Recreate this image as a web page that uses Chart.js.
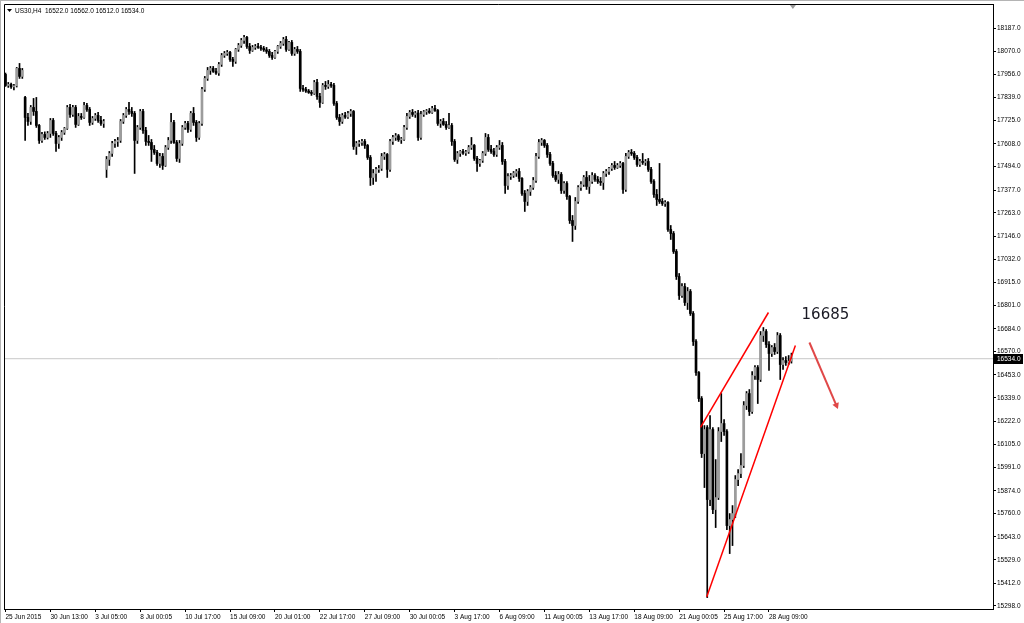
<!DOCTYPE html>
<html><head><meta charset="utf-8">
<script src="https://cdn.jsdelivr.net/npm/chart.js@4/dist/chart.umd.min.js"></script>
<style>html,body{margin:0;padding:0;background:#fff;overflow:hidden}#wrap{position:relative;width:1024px;height:623px}</style>
</head><body><div id="wrap"><canvas id="c"></canvas></div>
<script>
const symbolTitle = 'US30,H4  16522.0 16562.0 16512.0 16534.0';
const opens = [
17955,17900,17905,17893,17898,17985,17945,17840,17740,17720,
17790,17770,17700,17625,17655,17640,17660,17725,17660,17610,
17640,17665,17685,17790,17755,17790,17705,17745,17740,17800,
17780,17715,17735,17750,17725,17710,17480,17530,17560,17610,
17620,17625,17720,17750,17780,17770,17760,17625,17690,17770,
17675,17620,17615,17580,17565,17510,17545,17500,17590,17625,
17715,17615,17535,17610,17690,17710,17680,17760,17715,17640,
17710,17880,17935,17975,17985,17970,17962,18005,18050,18060,
18065,18030,18020,18080,18100,18125,18140,18095,18075,18090,
18095,18090,18085,18078,18070,18050,18040,18070,18095,18110,
18130,18080,18115,18060,18080,18070,17885,17880,17872,17865,
17860,17915,17845,17815,17900,17895,17905,17900,17810,17740,
17720,17750,17742,17760,17770,17595,17610,17615,17620,17600,
17540,17440,17460,17480,17485,17545,17555,17480,17620,17640,
17648,17628,17630,17690,17745,17765,17755,17762,17640,17755,
17768,17772,17765,17785,17775,17710,17720,17705,17690,17700,
17620,17530,17560,17570,17562,17568,17590,17600,17535,17510,
17525,17560,17640,17580,17570,17555,17590,17600,17520,17400,
17445,17450,17462,17470,17435,17360,17320,17370,17390,17425,
17545,17615,17625,17600,17555,17510,17450,17430,17455,17375,
17410,17345,17225,17200,17320,17390,17405,17440,17395,17420,
17450,17430,17420,17415,17460,17470,17485,17500,17490,17500,
17510,17380,17545,17565,17560,17540,17505,17520,17515,17520,
17480,17420,17355,17330,17320,17310,17315,17180,17160,17070,
16945,16850,16895,16815,16870,16760,16620,16465,16335,16060,
16190,15830,16180,15780,15840,16170,16210,16170,15700,15730,
15760,15930,15960,16000,16300,16360,16270,16450,16490,16430,
16650,16670,16605,16560,16590,16570,16650,16505,16525,16515,
16522];
const highs = [
17962,17915,17912,17905,17990,18010,17985,17845,17760,17800,
17835,17840,17705,17665,17668,17670,17735,17735,17670,17650,
17675,17690,17800,17805,17800,17800,17760,17760,17815,17810,
17790,17745,17760,17765,17745,17730,17545,17570,17620,17630,
17640,17730,17760,17790,17815,17790,17770,17700,17780,17780,
17690,17650,17630,17600,17575,17560,17560,17600,17640,17760,
17725,17625,17625,17700,17720,17720,17770,17790,17725,17720,
17890,17945,17990,17995,17995,17985,18015,18060,18070,18075,
18070,18040,18085,18110,18135,18150,18145,18110,18100,18105,
18110,18100,18095,18090,18080,18065,18075,18100,18120,18140,
18145,18120,18125,18090,18095,18080,17900,17890,17880,17875,
17925,17930,17860,17910,17920,17925,17915,17910,17820,17755,
17760,17765,17770,17780,17775,17620,17625,17630,17630,17605,
17550,17480,17490,17500,17560,17565,17560,17630,17650,17660,
17655,17640,17700,17760,17775,17780,17770,17775,17770,17775,
17780,17785,17795,17800,17780,17730,17735,17720,17760,17710,
17630,17570,17575,17580,17575,17600,17640,17605,17545,17530,
17570,17660,17655,17600,17585,17600,17625,17615,17530,17460,
17460,17470,17480,17485,17440,17375,17380,17400,17440,17560,
17630,17635,17630,17610,17565,17520,17470,17470,17465,17420,
17420,17350,17250,17340,17400,17420,17450,17470,17450,17465,
17460,17445,17440,17470,17480,17490,17510,17520,17510,17520,
17515,17560,17575,17580,17570,17550,17530,17560,17530,17535,
17490,17430,17380,17510,17335,17325,17320,17200,17170,17080,
16960,16910,16910,16890,16880,16770,16630,16470,16345,16200,
16200,16250,16190,16030,16190,16360,16230,16180,15760,15800,
15950,15980,16060,16320,16370,16380,16470,16500,16500,16670,
16690,16680,16620,16600,16610,16665,16660,16540,16545,16550,
16562];
const lows = [
17895,17890,17885,17878,17892,17935,17935,17625,17700,17705,
17750,17690,17610,17615,17630,17632,17640,17650,17570,17585,
17625,17655,17680,17740,17745,17690,17700,17730,17735,17770,
17700,17705,17725,17715,17700,17690,17440,17500,17545,17590,
17595,17615,17710,17740,17755,17745,17460,17610,17680,17660,
17600,17600,17520,17555,17500,17490,17480,17495,17580,17610,
17610,17520,17515,17600,17680,17665,17670,17700,17620,17630,
17700,17870,17925,17955,17965,17955,17950,17995,18040,18050,
18020,17995,18010,18070,18090,18110,18085,18060,18070,18080,
18085,18075,18070,18060,18040,18030,18035,18060,18085,18100,
18070,18075,18050,18050,18060,17870,17870,17865,17860,17850,
17855,17830,17790,17810,17880,17885,17890,17800,17730,17700,
17710,17735,17735,17745,17580,17555,17595,17600,17585,17530,
17400,17405,17420,17465,17475,17530,17440,17470,17605,17625,
17620,17610,17625,17680,17735,17745,17740,17625,17630,17745,
17755,17760,17760,17770,17700,17690,17700,17680,17685,17600,
17520,17510,17545,17555,17550,17560,17580,17525,17470,17495,
17515,17550,17570,17560,17545,17545,17580,17505,17360,17380,
17430,17440,17445,17420,17350,17270,17300,17350,17380,17415,
17535,17600,17590,17540,17500,17440,17420,17410,17360,17360,
17330,17210,17120,17180,17310,17375,17395,17380,17360,17410,
17420,17410,17400,17380,17445,17455,17475,17480,17485,17490,
17360,17370,17535,17550,17530,17495,17495,17505,17500,17470,
17410,17340,17300,17310,17300,17295,17170,17130,17060,16930,
16830,16840,16800,16780,16750,16600,16450,16320,16040,15890,
15340,15800,15760,15690,15830,16120,16150,15680,15560,15600,
15740,15900,15940,15990,16280,16250,16260,16430,16310,16420,
16620,16590,16475,16545,16555,16560,16430,16480,16500,16505,
16512];
const closes = [
17900,17905,17893,17898,17985,17945,17975,17740,17720,17790,
17770,17700,17625,17655,17640,17660,17725,17660,17610,17640,
17665,17685,17790,17755,17790,17705,17745,17740,17800,17780,
17715,17735,17750,17725,17710,17720,17530,17560,17610,17620,
17625,17720,17750,17780,17770,17760,17625,17690,17770,17675,
17620,17615,17580,17565,17510,17545,17500,17590,17625,17715,
17615,17535,17610,17690,17710,17680,17760,17715,17640,17710,
17880,17935,17975,17985,17970,17962,18005,18050,18060,18065,
18030,18020,18080,18100,18125,18140,18095,18075,18090,18095,
18090,18085,18078,18070,18050,18040,18070,18095,18110,18130,
18080,18115,18060,18080,18070,17885,17880,17872,17865,17860,
17915,17845,17815,17900,17895,17905,17900,17810,17740,17720,
17750,17742,17760,17770,17595,17610,17615,17620,17600,17540,
17440,17460,17480,17485,17545,17555,17480,17620,17640,17648,
17628,17630,17690,17745,17765,17755,17762,17640,17755,17768,
17772,17765,17785,17775,17710,17720,17705,17690,17700,17620,
17530,17560,17570,17562,17568,17590,17600,17535,17510,17525,
17560,17640,17580,17570,17555,17590,17600,17520,17400,17445,
17450,17462,17470,17435,17360,17320,17370,17390,17425,17545,
17615,17625,17600,17555,17510,17450,17430,17455,17375,17410,
17345,17225,17200,17320,17390,17405,17440,17395,17420,17450,
17430,17420,17415,17460,17470,17485,17500,17490,17500,17510,
17380,17545,17565,17560,17540,17505,17520,17515,17520,17480,
17420,17355,17330,17320,17310,17315,17180,17160,17070,16945,
16850,16895,16815,16870,16760,16620,16465,16335,16060,16180,
15830,16180,15780,15840,16170,16210,16170,15700,15730,15760,
15930,15960,16000,16300,16360,16270,16450,16490,16430,16650,
16670,16605,16560,16590,16570,16650,16505,16525,16515,16522,
16534];
const xTickIndex = [0,16,32,48,64,80,96,112,128,144,160,176,192,208,224,240,256,272];
const xTickLabels = ['25 Jun 2015','30 Jun 13:00','3 Jul 05:00','8 Jul 00:05','10 Jul 17:00','15 Jul 09:00','20 Jul 01:00','22 Jul 17:00','27 Jul 09:00','30 Jul 00:05','3 Aug 17:00','6 Aug 09:00','11 Aug 00:05','13 Aug 17:00','18 Aug 09:00','21 Aug 00:05','25 Aug 17:00','28 Aug 09:00'];
const yTickValues = [18187,18070,17956,17839,17725,17608,17494,17377,17263,17146,17032,16915,16801,16684,16570,16453,16339,16222,16105,15991,15874,15760,15643,15529,15412,15298];
const upperTrend = [{x:247.6,y:16191},{x:271.8,y:16765}];
const lowerTrend = [{x:249.8,y:15343},{x:281.4,y:16600}];
const arrowPath = [{x:286.4,y:16615},{x:296.0,y:16301}];
const noteText = '16685';
const notePos = {x:283.6, y:16750};
const lastPrice = 16534;

const X_MIN = -0.53, X_MAX = 351.8, Y_MIN = 15283, Y_MAX = 18307;
const AXIS_FONT = {family:'Liberation Sans', size:6.5};

const idx = closes.map((_, i) => i);
const wickData = idx.map(i => ({x:i, y:[lows[i], highs[i]]}));
const bodyData = idx.map(i => ({x:i, y:[opens[i], closes[i]]}));
const bullColor = i => closes[i] >= opens[i] ? '#9c9c9c' : '#000000';

const decor = {
  id:'decor',
  beforeDraw(chart){
    const c = chart.ctx; c.save(); c.fillStyle='#fff'; c.fillRect(0,0,chart.width,chart.height); c.restore();
  },
  afterDraw(chart){
    const c = chart.ctx, a = chart.chartArea, xs = chart.scales.x, ys = chart.scales.y;
    c.save();
    // outer frame
    c.fillStyle = '#b4b4b4';
    c.fillRect(0,0,chart.width,1); c.fillRect(0,0,1,chart.height);
    // plot frame (left/top)
    c.strokeStyle = '#000'; c.lineWidth = 1;
    c.beginPath();
    c.moveTo(Math.round(a.left)+0.5, a.bottom); c.lineTo(Math.round(a.left)+0.5, Math.round(a.top)+0.5);
    c.lineTo(a.right, Math.round(a.top)+0.5);
    c.stroke();
    // title
    c.fillStyle = '#000';
    c.beginPath(); c.moveTo(a.left+3, a.top+5); c.lineTo(a.left+8, a.top+5); c.lineTo(a.left+5.5, a.top+8); c.closePath(); c.fill();
    c.font = '6.5px "Liberation Sans"'; c.textBaseline = 'middle'; c.textAlign = 'left';
    c.fillText(symbolTitle, a.left+11, a.top+7);
    // chart shift marker
    const sx = xs.getPixelForValue(closes.length - 0.5);
    c.fillStyle = '#9a9a9a';
    c.beginPath(); c.moveTo(sx-3, a.top+1); c.lineTo(sx+3, a.top+1); c.lineTo(sx, a.top+5); c.closePath(); c.fill();
    // last price label
    const py = Math.round(ys.getPixelForValue(lastPrice));
    c.fillStyle = '#000';
    c.fillRect(a.right+1, py-5, 29, 10);
    c.fillStyle = '#fff'; c.font = '6.5px "Liberation Sans"';
    c.fillText(lastPrice.toFixed(1), a.right+4, py+0.5);
    // note text
    c.fillStyle = '#1a1a24'; c.font = '15px "DejaVu Sans"'; c.textBaseline = 'middle';
    c.fillText(noteText, xs.getPixelForValue(notePos.x), ys.getPixelForValue(notePos.y));
    c.restore();
  }
};

new Chart(document.getElementById('c'), {
  type:'bar',
  data:{ datasets:[
    {type:'line', data:[{x:X_MIN,y:lastPrice},{x:X_MAX,y:lastPrice}], borderColor:'#c8c8c8', borderWidth:1, pointRadius:0, order:10},
    {label:'wick', data:wickData, backgroundColor:'#000', barThickness:1, grouped:false, order:5},
    {label:'body', data:bodyData, backgroundColor:ctx => bullColor(ctx.dataIndex), barThickness:2, minBarLength:1, grouped:false, order:4},
    {type:'line', data:upperTrend, borderColor:'#ff0000', borderWidth:1.5, pointRadius:0, order:1},
    {type:'line', data:lowerTrend, borderColor:'#ff0000', borderWidth:1.5, pointRadius:0, order:1},
    {type:'line', data:arrowPath, borderColor:'#e04848', borderWidth:2, pointRadius:[0,4], pointStyle:'triangle', rotation:[0,157], pointBackgroundColor:'#e04848', pointBorderColor:'#e04848', pointBorderWidth:0, order:0}
  ]},
  options:{
    responsive:true, maintainAspectRatio:false, animation:false,
    layout:{padding:{left:3, top:3, right:0, bottom:0}},
    plugins:{legend:{display:false}, tooltip:{enabled:false}, title:{display:false}},
    scales:{
      x:{type:'linear', min:X_MIN, max:X_MAX, offset:false,
        afterBuildTicks:s => { s.ticks = xTickIndex.map(v => ({value:v})); },
        afterFit:s => { s.height = 14; s.paddingLeft = 0; s.paddingRight = 0; },
        ticks:{autoSkip:false, maxRotation:0, minRotation:0, align:'start', padding:1, color:'#000', font:AXIS_FONT,
          callback:v => xTickLabels[xTickIndex.indexOf(v)] },
        grid:{drawOnChartArea:false, drawTicks:true, tickLength:3, color:'#000', offset:false},
        border:{display:true, color:'#000', width:1}
      },
      y:{type:'linear', position:'right', min:Y_MIN, max:Y_MAX,
        afterBuildTicks:s => { s.ticks = yTickValues.map(v => ({value:v})); },
        afterFit:s => { s.width = 31; s.paddingTop = 0; s.paddingBottom = 0; },
        ticks:{autoSkip:false, padding:1, color:'#000', font:AXIS_FONT, callback:v => Number(v).toFixed(1)},
        grid:{drawOnChartArea:false, drawTicks:true, tickLength:3, color:'#000'},
        border:{display:true, color:'#000', width:1}
      }
    }
  },
  plugins:[decor]
});
</script></body></html>
